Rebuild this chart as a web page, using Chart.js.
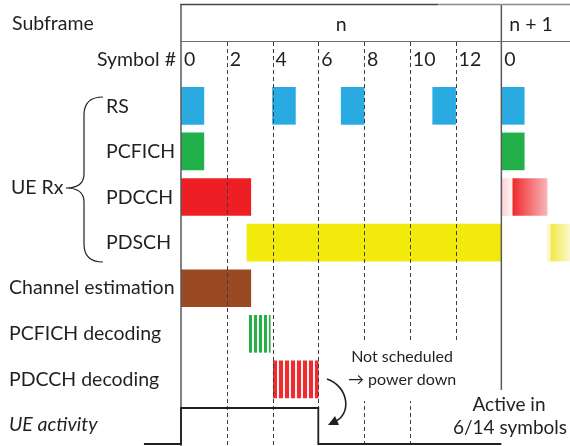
<!DOCTYPE html>
<html><head><meta charset="utf-8">
<script src="https://cdn.jsdelivr.net/npm/chart.js@4"></script>
<style>html,body{margin:0;padding:0;background:#fff}#wrap{width:570px;height:446px;position:relative}</style>
</head><body><div id="wrap"><canvas id="c"></canvas></div>
<script>
// ---- data ----
const rowLabels = ['RS','PCFICH','PDCCH','PDSCH','Channel estimation','PCFICH decoding','PDCCH decoding','UE activity'];
const subframeLabels = ['n','n + 1'];
const symbolTicks = [0,2,4,6,8,10,12];
const nextSubframeTicks = [14];
const nextSubframeTickText = ['0'];
const rsSymbols = [[0,1],[4,5],[7,8],[11,12],[14,15]];
const pcfichSymbols = [[0,1],[14,15]];
const pdcchSymbols = [[0,3.05]];
const pdcchNextFaint = [[14,14.45]];
const pdcchNextFade = [[14.5,16]];
const pdschSymbols = [[2.88,14]];
const pdschNextFaint = [[16.0,16.13]];
const pdschNextFade = [[16.13,17]];
const chanEstSymbols = [[0,3.05]];
const pcfichDecSymbols = [[2.97,3.9]];
const pdcchDecSymbols = [[4,6]];
const ueActivitySymbols = [-1.62,0,0,6,6,14];
const ueActivityLevel = [0,0,1,1,0,0];

const FONT = 'Lato, "DejaVu Sans", sans-serif';
const INK = '#231f20';

function stripes(color, period, on, phase){
  const cv = document.createElement('canvas'); cv.width = period; cv.height = 4;
  const g = cv.getContext('2d'); g.fillStyle = '#fdf3f3'; g.fillRect(0,0,period,4);
  g.fillStyle = color;
  for (let i=0;i<on;i++){ g.fillRect((phase+i)%period,0,1,4); }
  return document.createElement('canvas').getContext('2d').createPattern(cv,'repeat');
}
const greenStripe = stripes('#22b04b',5,3,4);
const redStripe = stripes('#ef2b2f',6,4,3);

function grad(range, c0, c1){
  return (c) => {
    const ch = c.chart; if (!ch.chartArea || !ch.scales.x) return c0;
    const x0 = ch.scales.x.getPixelForValue(range[0][0]);
    const x1 = ch.scales.x.getPixelForValue(range[0][1]);
    const g = ch.ctx.createLinearGradient(x0,0,x1,0);
    g.addColorStop(0,c0); g.addColorStop(1,c1); return g;
  };
}

function barSet(ranges, row, color){
  return { type:'bar', data: ranges.map(r => ({x:r, y:row})), backgroundColor: color,
    borderWidth:0, barThickness:37, grouped:false, order:1, xAxisID:'x', yAxisID:'y' };
}

const datasets = [
  barSet(rsSymbols, 0, '#29abe2'),
  barSet(pcfichSymbols, 1, '#22b04b'),
  barSet(pdcchSymbols, 2, '#ee1f24'),
  barSet(pdcchNextFaint, 2, grad(pdcchNextFaint,'#fcd0d3','#fff2f3')),
  barSet(pdcchNextFade, 2, grad(pdcchNextFade,'#ee2a2e','#f8b5b7')),
  barSet(pdschSymbols, 3, '#f2ea0d'),
  barSet(pdschNextFaint, 3, '#fbf8cf'),
  barSet(pdschNextFade, 3, grad(pdschNextFade,'#f1e840','#fbf8cf')),
  barSet(chanEstSymbols, 4, '#9a4a22'),
  barSet(pcfichDecSymbols, 5, greenStripe),
  barSet(pdcchDecSymbols, 6, redStripe),
  { type:'line', indexAxis:'x', data: ueActivitySymbols.map((s,i)=>({x:s, y:ueActivityLevel[i]})),
    borderColor: INK, borderWidth:1.8, pointRadius:0, tension:0, fill:false, clip:false,
    order:0, xAxisID:'x', yAxisID:'y2' }
];

function seg(ctx,x0,y0,x1,y1){ ctx.beginPath(); ctx.moveTo(x0,y0); ctx.lineTo(x1,y1); ctx.stroke(); }

const overlay = {
  id:'overlay',
  beforeDatasetDraw(chart, args){
    if (args.meta.type !== 'line') return;
    const ctx = chart.ctx, X = v => chart.scales.x.getPixelForValue(v);
    ctx.save();
    ctx.strokeStyle = '#3c3c3c'; ctx.lineWidth = 1; ctx.setLineDash([4,3]);
    symbolTicks.forEach(t => { if (t>0){ const p = Math.round(X(t))+0.5; seg(ctx,p,42,p,446);} });
    ctx.setLineDash([]);
    ctx.strokeStyle = '#5a5a5a'; ctx.lineWidth = 1.5;
    seg(ctx, X(0), 4, X(0), 446);
    nextSubframeTicks.forEach(t => seg(ctx, X(t), 4, X(t), 446));
    ctx.strokeStyle = '#444'; seg(ctx, X(0)-0.7, 4.5, 438, 4.5);
    ctx.strokeStyle = '#8c8c8c'; seg(ctx, 438, 4.5, 570, 4.5);
    ctx.strokeStyle = '#6b6b6b'; ctx.lineWidth = 1; seg(ctx, X(0), 41.5, 570, 41.5);
    ctx.fillStyle = '#fff';
    ctx.fillRect(344, 342, 115, 59);
    ctx.fillRect(450, 390, 120, 56);
    ctx.restore();
  },
  afterDraw(chart){
    const ctx = chart.ctx, X = v => chart.scales.x.getPixelForValue(v), Y = v => chart.scales.y.getPixelForValue(v);
    ctx.save();
    ctx.fillStyle = INK; ctx.textBaseline = 'middle';
    ctx.font = '19.5px ' + FONT;
    ctx.textAlign = 'left'; ctx.fillText('Subframe', 12, 24);
    ctx.textAlign = 'center'; ctx.fillText(subframeLabels[0], (X(0)+X(14))/2, 25);
    ctx.textAlign = 'left'; ctx.fillText(subframeLabels[1], X(14)+8, 25);
    ctx.textAlign = 'right'; ctx.fillText('Symbol #', 176, 60);
    ctx.textAlign = 'left';
    symbolTicks.forEach(t => ctx.fillText(String(t), X(t)+3, 60));
    nextSubframeTicks.forEach((t,i) => ctx.fillText(nextSubframeTickText[i], X(t)+3, 60));
    for (let i=0;i<4;i++) ctx.fillText(rowLabels[i], 106, Y(i)+0.5);
    for (let i=4;i<7;i++) ctx.fillText(rowLabels[i], 9, Y(i));
    ctx.font = 'italic 19.5px ' + FONT; ctx.fillText(rowLabels[7], 9, Y(7));
    ctx.font = '19.5px ' + FONT; ctx.fillText('UE Rx', 11, 188);
    // brace
    ctx.strokeStyle = INK; ctx.lineWidth = 1.2; ctx.beginPath();
    ctx.moveTo(103,97); ctx.quadraticCurveTo(84,97,84,115); ctx.lineTo(84,174);
    ctx.quadraticCurveTo(84,188,66,188); ctx.quadraticCurveTo(84,188,84,202);
    ctx.lineTo(84,244); ctx.quadraticCurveTo(84,262,103,262); ctx.stroke();
    // annotation
    ctx.font = '16px ' + FONT; ctx.textAlign = 'center';
    ctx.fillText('Not scheduled', 402, 357);
    ctx.textAlign = 'left'; ctx.fillText('\u2192 power down', 348, 380);
    ctx.font = '19px ' + FONT; ctx.textAlign = 'center';
    ctx.fillText('Active in', 509, 405);
    ctx.fillText('6/14 symbols', 510, 428);
    // curved arrow
    ctx.lineWidth = 1.6; ctx.beginPath(); ctx.moveTo(327,379);
    ctx.bezierCurveTo(348,386,352,413,336,421); ctx.stroke();
    ctx.beginPath(); ctx.moveTo(328,425); ctx.lineTo(335,416); ctx.lineTo(339,425); ctx.closePath(); ctx.fill();
    ctx.restore();
  }
};

new Chart(document.getElementById('c'), {
  data: { datasets },
  options: {
    indexAxis:'y', responsive:true, maintainAspectRatio:false, animation:false,
    layout:{ padding:{ left:181, top:83, right:0, bottom:0 } },
    scales:{
      x:{ type:'linear', min:0, max:17, display:false, offset:false },
      y:{ type:'linear', min:-0.5, max:7.46, reverse:true, display:false, offset:false },
      y2:{ type:'linear', min:-0.056, max:10.03, display:false, offset:false }
    },
    plugins:{ legend:{display:false}, tooltip:{enabled:false} },
    events: []
  },
  plugins:[overlay]
});
</script></body></html>
